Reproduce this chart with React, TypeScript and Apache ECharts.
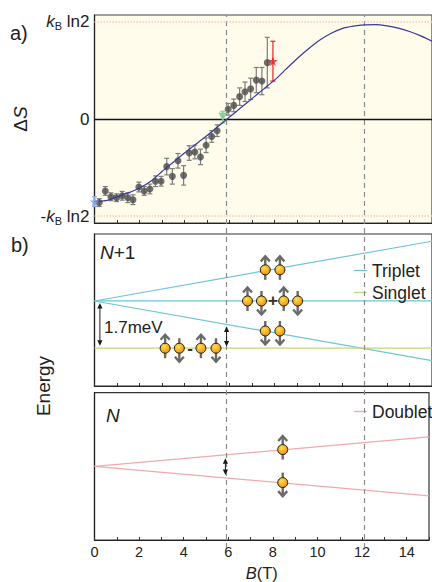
import React, { useEffect, useRef } from "react";
import * as echarts from "echarts";

const F = '"Liberation Sans", Arial, Helvetica, sans-serif';

// ---- Panel a: entropy change ----
const ptB = [0.21, 0.48, 0.73, 0.98, 1.23, 1.48, 1.71, 1.97, 2.21, 2.46, 2.71, 2.96, 3.21, 3.46, 3.71, 3.96, 4.21, 4.46, 4.71, 4.96, 5.21, 5.45, 5.94, 6.19, 6.45, 6.69, 6.94, 7.19, 7.44, 7.68];
const ptS = [-0.86, -0.74, -0.8, -0.81, -0.79, -0.81, -0.83, -0.7, -0.74, -0.72, -0.64, -0.64, -0.49, -0.59, -0.43, -0.58, -0.35, -0.34, -0.39, -0.27, -0.18, -0.12, 0.1, 0.14, 0.23, 0.28, 0.31, 0.4, 0.39, 0.58];
const ptErr = [0.04, 0.045, 0.04, 0.04, 0.045, 0.05, 0.05, 0.05, 0.045, 0.05, 0.055, 0.05, 0.085, 0.08, 0.075, 0.1, 0.075, 0.07, 0.08, 0.075, 0.06, 0.06, 0.06, 0.065, 0.09, 0.1, 0.11, 0.13, 0.14, 0.26];
const bluePt = [0, -0.85, 0.05];
const greenPt = [5.7, 0.02, 0.06];
const redPt = [7.93, 0.595, 0.205];
const curveB = [0, 0.5, 1, 1.5, 2, 2.5, 3, 3.5, 4, 4.5, 5, 5.5, 6, 6.5, 7, 7.5, 8, 8.5, 9, 9.5, 10, 10.5, 11, 11.5, 12, 12.5, 13, 13.5, 14, 14.5, 15];
const curveS = [-0.85, -0.84, -0.8, -0.76, -0.71, -0.64, -0.54, -0.445, -0.35, -0.26, -0.17, -0.075, 0.02, 0.115, 0.21, 0.305, 0.4, 0.51, 0.62, 0.72, 0.81, 0.88, 0.93, 0.955, 0.968, 0.97, 0.958, 0.935, 0.9, 0.855, 0.8];
const sLevels = [-1, 0, 1];
const guideB = [5.87, 12];

// ---- Panel b: energy levels (meV) ----
const tripletUp = [[0, 0], [15, 2.15]];
const tripletMid = [[0, 0], [15, 0]];
const tripletDown = [[0, 0], [15, -2.15]];
const singlet = [[0, -1.7], [15, -1.7]];
const doubletUp = [[0, 0], [15, 1.09]];
const doubletDown = [[0, 0], [15, -1.09]];
// spins: [B, E, direction]
const spinsNp1 = [[3.14, -1.7, 1], [3.77, -1.7, -1], [4.73, -1.7, 1], [5.4, -1.7, -1], [7.59, 1.12, 1], [8.24, 1.12, 1], [6.8, 0, 1], [7.42, 0, -1], [8.41, 0, 1], [9.03, 0, -1], [7.59, -1.08, -1], [8.24, -1.08, -1]];
const spinsN = [[8.44, 0.62, 1], [8.44, -0.6, -1]];
// operators: [B, E, kind] 0 = minus, 1 = plus
const opsNp1 = [[4.25, -1.7, 0], [7.93, 0, 1]];
// double arrows: [B, E1, E2]
const arrowsNp1 = [[0.24, -0.07, -1.61], [5.87, -0.92, -1.64]];
const arrowsN = [[5.87, 0.3, -0.32]];
const xTicks = [0, 2, 4, 6, 8, 10, 12, 14];

const STAR = "path://M50,0 L61,35 L98,35 L68,57 L79,91 L50,70 L21,91 L32,57 L2,35 L39,35 Z";

function errRender(color: string) {
  return (params: any, api: any) => {
    const x = api.value(0), y = api.value(1), e = api.value(2);
    const p1 = api.coord([x, y + e]);
    const p2 = api.coord([x, y - e]);
    const w = 2.5;
    const st = { stroke: color, lineWidth: 1.2 };
    return {
      type: "group",
      children: [
        { type: "line", shape: { x1: p1[0], y1: p1[1], x2: p2[0], y2: p2[1] }, style: st },
        { type: "line", shape: { x1: p1[0] - w, y1: p1[1], x2: p1[0] + w, y2: p1[1] }, style: st },
        { type: "line", shape: { x1: p2[0] - w, y1: p2[1], x2: p2[0] + w, y2: p2[1] }, style: st },
      ],
    };
  };
}

function spinRender(params: any, api: any) {
  const B = api.value(0), E = api.value(1), d = api.value(2);
  const c = api.coord([B, E]);
  const cx = c[0], cy = c[1];
  const g = "#6a6a6a";
  const grad = new echarts.graphic.RadialGradient(0.4, 0.35, 0.7, [
    { offset: 0, color: "#FFE24A" },
    { offset: 1, color: "#F08A14" },
  ]);
  return {
    type: "group",
    children: [
      { type: "line", shape: { x1: cx, y1: cy + 10 * d, x2: cx, y2: cy - 12.5 * d }, style: { stroke: g, lineWidth: 2.4 } },
      { type: "polyline", shape: { points: [[cx - 4.5, cy - 8.5 * d], [cx, cy - 13.5 * d], [cx + 4.5, cy - 8.5 * d]] }, style: { stroke: g, lineWidth: 2.4, fill: "none" } },
      { type: "circle", shape: { cx, cy, r: 5 }, style: { fill: grad, stroke: "#1a1a1a", lineWidth: 1 } },
    ],
  };
}

function opRender(params: any, api: any) {
  const c = api.coord([api.value(0), api.value(1)]);
  const k = api.value(2);
  return {
    type: "text",
    x: c[0],
    y: c[1],
    style: { text: k === 1 ? "+" : "-", textAlign: "center", textVerticalAlign: "middle", fontSize: 17, fontWeight: "bold", fontFamily: F, fill: "#333" },
  };
}

function arrowRender(params: any, api: any) {
  const B = api.value(0);
  const p1 = api.coord([B, api.value(1)]);
  const p2 = api.coord([B, api.value(2)]);
  const x = p1[0], y1 = p1[1], y2 = p2[1];
  const col = "#1a1a1a";
  return {
    type: "group",
    children: [
      { type: "line", shape: { x1: x, y1: y1 + 3, x2: x, y2: y2 - 3 }, style: { stroke: col, lineWidth: 1 } },
      { type: "polygon", shape: { points: [[x, y1], [x - 2.6, y1 + 5.5], [x + 2.6, y1 + 5.5]] }, style: { fill: col } },
      { type: "polygon", shape: { points: [[x, y2], [x - 2.6, y2 - 5.5], [x + 2.6, y2 - 5.5]] }, style: { fill: col } },
    ],
  };
}

export default function App() {
  const ref = useRef<HTMLDivElement>(null);
  useEffect(() => {
    if (!ref.current) return;
    const chart = echarts.init(ref.current, null, { renderer: "svg" });
    const gridL = 94.5, gridW = 340.2;
    const xBase = (gi: number, labels: boolean) => ({
      type: "value",
      gridIndex: gi,
      min: 0,
      max: 15,
      interval: 1,
      axisLine: { show: true, onZero: false, lineStyle: { color: "#222", width: 1.2 } },
      axisTick: { show: true, inside: true, length: 3, lineStyle: { color: "#333" } },
      splitLine: { show: false },
      axisLabel: labels
        ? { show: true, fontSize: 14.5, fontFamily: F, color: "#222", margin: 4, formatter: (v: number) => (xTicks.indexOf(v) >= 0 ? String(v) : "") }
        : { show: false },
    });
    const yBase = (gi: number, min: number, max: number) => ({
      type: "value",
      gridIndex: gi,
      min,
      max,
      axisLine: { show: true, onZero: false, lineStyle: { color: "#222", width: 1.2 } },
      axisTick: { show: false },
      splitLine: { show: false },
      axisLabel: { show: false },
    });
    const richLab = {
      i: { fontStyle: "italic", fontSize: 17, fontFamily: F, color: "#222", lineHeight: 20, verticalAlign: "middle" },
      s: { fontSize: 11, fontFamily: F, color: "#222", lineHeight: 11, verticalAlign: "bottom" },
      n: { fontSize: 17, fontFamily: F, color: "#222", lineHeight: 20, verticalAlign: "middle" },
    };
    const lineS = (name: string, data: number[][], color: string, xi: number) => ({
      type: "line",
      name,
      xAxisIndex: xi,
      yAxisIndex: xi,
      data,
      symbol: "none",
      color,
      lineStyle: { color, width: 1.2 },
      itemStyle: { color },
      silent: true,
      z: 3,
    });
    const option: any = {
      animation: false,
      grid: [
        { left: gridL, top: 15, width: gridW, height: 208, show: true, backgroundColor: "#FFFCEC", borderColor: "#444", borderWidth: 1.2 },
        { left: gridL, top: 234, width: gridW, height: 152, show: true, backgroundColor: "transparent", borderColor: "#333", borderWidth: 1.2 },
        { left: gridL, top: 392.7, width: gridW, height: 151.3, show: true, backgroundColor: "transparent", borderColor: "#333", borderWidth: 1.2 },
        { left: gridL, top: 15, width: gridW, height: 533, show: false },
      ],
      xAxis: [
        xBase(0, false),
        xBase(1, false),
        {
          ...xBase(2, true),
          name: "{i|B}{n|(T)}",
          nameLocation: "middle",
          nameGap: 24,
          nameTextStyle: {
            rich: {
              i: { fontStyle: "italic", fontSize: 16.5, fontFamily: F, color: "#222" },
              n: { fontSize: 16.5, fontFamily: F, color: "#222" },
            },
          },
        },
        { type: "value", gridIndex: 3, min: 0, max: 15, show: false },
      ],
      yAxis: [
        {
          ...yBase(0, -1.07, 1.07),
          axisLabel: {
            show: true,
            customValues: sLevels,
            margin: 5,
            formatter: (v: number) => (v === 1 ? "{i|k}{s|B}{n| ln2}" : v === -1 ? "{n|-}{i|k}{s|B}{n| ln2}" : "{n|0}"),
            rich: richLab,
          },
          name: "{d|Δ}{s|S}",
          nameLocation: "middle",
          nameRotate: 90,
          nameGap: 36,
          nameTextStyle: {
            rich: {
              d: { fontSize: 19, fontFamily: F, color: "#222" },
              s: { fontSize: 19, fontStyle: "italic", fontFamily: F, color: "#222" },
            },
          },
        },
        yBase(1, -3.06, 2.41),
        yBase(2, -2.72, 2.72),
        { type: "value", gridIndex: 3, min: 0, max: 1, show: false },
      ],
      legend: [
        {
          data: ["Triplet", "Singlet"],
          left: 349,
          top: 256.5,
          orient: "vertical",
          icon: "rect",
          itemWidth: 13,
          itemHeight: 1.3,
          itemGap: 4,
          textStyle: { fontSize: 17.5, fontFamily: F, color: "#222", lineHeight: 17 },
          selectedMode: false,
        },
        {
          data: ["Doublet"],
          left: 349,
          top: 397.5,
          orient: "vertical",
          icon: "rect",
          itemWidth: 13,
          itemHeight: 1.3,
          textStyle: { fontSize: 17.5, fontFamily: F, color: "#222", lineHeight: 17 },
          selectedMode: false,
        },
      ],
      series: [
        {
          type: "line",
          xAxisIndex: 3,
          yAxisIndex: 3,
          data: [],
          silent: true,
          z: 1,
          markLine: {
            silent: true,
            symbol: "none",
            label: { show: false },
            lineStyle: { color: "#8a8a8a", type: [5, 4], width: 1.2 },
            data: guideB.map((b) => ({ xAxis: b })),
          },
        },
        {
          type: "line",
          xAxisIndex: 0,
          yAxisIndex: 0,
          data: [],
          silent: true,
          markLine: {
            silent: true,
            symbol: "none",
            label: { show: false },
            data: [
              { yAxis: sLevels[0], lineStyle: { color: "#F3C7B8", type: "dotted", width: 1.5 } },
              { yAxis: sLevels[2], lineStyle: { color: "#F3C7B8", type: "dotted", width: 1.5 } },
              { yAxis: sLevels[1], lineStyle: { color: "#111", type: "solid", width: 1.4 } },
            ],
          },
        },
        {
          type: "custom",
          xAxisIndex: 0,
          yAxisIndex: 0,
          renderItem: errRender("#7d7d7d"),
          encode: { x: 0, y: 1 },
          data: ptB.map((b, i) => [b, ptS[i], ptErr[i]]),
          silent: true,
          z: 3,
        },
        {
          type: "scatter",
          xAxisIndex: 0,
          yAxisIndex: 0,
          symbolSize: 7,
          itemStyle: { color: "#4a4a4a" },
          data: ptB.map((b, i) => [b, ptS[i]]),
          silent: true,
          z: 4,
        },
        {
          type: "line",
          xAxisIndex: 0,
          yAxisIndex: 0,
          data: curveB.map((b, i) => [b, curveS[i]]),
          symbol: "none",
          smooth: 0.3,
          lineStyle: { color: "#3A3A98", width: 1.2 },
          silent: true,
          z: 5,
        },
        { type: "custom", xAxisIndex: 0, yAxisIndex: 0, renderItem: errRender("#8FA8E0"), encode: { x: 0, y: 1 }, data: [bluePt], silent: true, z: 5 },
        { type: "scatter", xAxisIndex: 0, yAxisIndex: 0, symbol: STAR, symbolSize: 10, itemStyle: { color: "#7E9FE0" }, data: [[bluePt[0], bluePt[1]]], silent: true, z: 6 },
        { type: "custom", xAxisIndex: 0, yAxisIndex: 0, renderItem: errRender("#8DC99A"), encode: { x: 0, y: 1 }, data: [greenPt], silent: true, z: 5 },
        { type: "scatter", xAxisIndex: 0, yAxisIndex: 0, symbol: "triangle", symbolRotate: 180, symbolSize: 9, itemStyle: { color: "#7CC68C" }, data: [[greenPt[0], greenPt[1]]], silent: true, z: 6 },
        { type: "custom", xAxisIndex: 0, yAxisIndex: 0, renderItem: errRender("#E8202A"), encode: { x: 0, y: 1 }, data: [redPt], silent: true, z: 5 },
        { type: "scatter", xAxisIndex: 0, yAxisIndex: 0, symbol: STAR, symbolSize: 10, itemStyle: { color: "#E8202A" }, data: [[redPt[0], redPt[1]]], silent: true, z: 6 },
        lineS("Triplet", tripletUp, "#6CC6D6", 1),
        lineS("Triplet", tripletMid, "#6CC6D6", 1),
        lineS("Triplet", tripletDown, "#6CC6D6", 1),
        lineS("Singlet", singlet, "#C9D47A", 1),
        { type: "custom", xAxisIndex: 1, yAxisIndex: 1, renderItem: arrowRender, encode: { x: 0, y: 1 }, data: arrowsNp1, silent: true, z: 6 },
        { type: "custom", xAxisIndex: 1, yAxisIndex: 1, renderItem: spinRender, encode: { x: 0, y: 1 }, data: spinsNp1, silent: true, z: 7 },
        { type: "custom", xAxisIndex: 1, yAxisIndex: 1, renderItem: opRender, encode: { x: 0, y: 1 }, data: opsNp1, silent: true, z: 8 },
        lineS("Doublet", doubletUp, "#F2A9AE", 2),
        lineS("Doublet", doubletDown, "#F2A9AE", 2),
        { type: "custom", xAxisIndex: 2, yAxisIndex: 2, renderItem: arrowRender, encode: { x: 0, y: 1 }, data: arrowsN, silent: true, z: 6 },
        { type: "custom", xAxisIndex: 2, yAxisIndex: 2, renderItem: spinRender, encode: { x: 0, y: 1 }, data: spinsN, silent: true, z: 7 },
      ],
      graphic: [
        { type: "text", x: 10, y: 33, style: { text: "a)", fontSize: 20, fontFamily: F, fill: "#222", textVerticalAlign: "middle" } },
        { type: "text", x: 11, y: 245, style: { text: "b)", fontSize: 20, fontFamily: F, fill: "#222", textVerticalAlign: "middle" } },
        {
          type: "text",
          x: 100,
          y: 252,
          style: {
            text: "{i|N}{n|+1}",
            textVerticalAlign: "middle",
            rich: {
              i: { fontStyle: "italic", fontSize: 19, fontFamily: F, fill: "#222" },
              n: { fontSize: 19, fontFamily: F, fill: "#222" },
            },
          },
        },
        { type: "text", x: 106, y: 415, style: { text: "N", fontStyle: "italic", fontSize: 19, fontFamily: F, fill: "#222", textVerticalAlign: "middle" } },
        { type: "text", x: 104, y: 327, style: { text: "1.7meV", fontSize: 17, fontFamily: F, fill: "#222", textVerticalAlign: "middle" } },
        { type: "text", x: 43, y: 386, rotation: Math.PI / 2, style: { text: "Energy", fontSize: 19, fontFamily: F, fill: "#222", textAlign: "center", textVerticalAlign: "middle" } },
      ],
    };
    chart.setOption(option);
    return () => chart.dispose();
  }, []);
  return <div ref={ref} style={{ position: "absolute", left: 0, top: 0, width: 432, height: 582 }} />;
}
